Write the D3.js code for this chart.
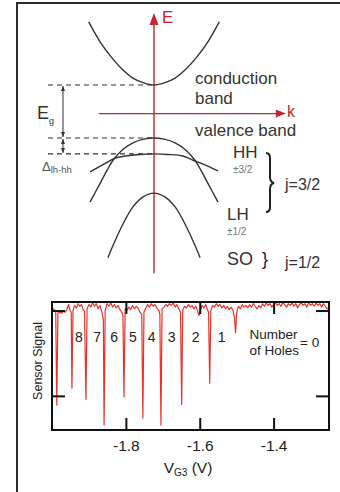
<!DOCTYPE html>
<html>
<head>
<meta charset="utf-8">
<script src="https://cdn.jsdelivr.net/npm/d3@7"></script>
<style>
  body { margin: 0; background: #fff; }
  svg text { font-family: "Liberation Sans", Arial, Helvetica, sans-serif; }
</style>
</head>
<body>
<div id="chart"></div>
<script>
// band diagram, [k, E] with E in units of the gap (VB top = 0, CB bottom = 1)
const conductionBand = [[-1.02,2.19],[-0.84,1.81],[-0.67,1.53],[-0.5,1.30],[-0.33,1.13],[-0.16,1.04],[0,1.0],
  [0.16,1.04],[0.33,1.13],[0.5,1.30],[0.67,1.53],[0.84,1.81],[1.02,2.19]];
const lightHole = [[-1.0,-1.21],[-0.84,-0.85],[-0.73,-0.60],[-0.64,-0.42],[-0.5,-0.23],[-0.33,-0.09],[-0.16,-0.02],[0,0],
  [0.16,-0.02],[0.33,-0.09],[0.5,-0.23],[0.64,-0.42],[0.73,-0.60],[0.84,-0.85],[1.0,-1.21]];
const heavyHole = [[-1.0,-0.64],[-0.84,-0.53],[-0.72,-0.45],[-0.61,-0.38],[-0.45,-0.34],[-0.22,-0.31],[0,-0.30],
  [0.22,-0.31],[0.45,-0.34],[0.61,-0.42],[0.72,-0.47],[0.84,-0.53],[1.0,-0.62]];
const splitOff = [[-0.72,-2.26],[-0.67,-2.11],[-0.5,-1.66],[-0.33,-1.30],[-0.17,-1.11],[0,-1.04],
  [0.17,-1.11],[0.33,-1.30],[0.5,-1.66],[0.67,-2.11],[0.72,-2.26]];
const levelLines = [1.0, 0.0, -0.30];
const eAxisRange = [-2.55, 2.36];
const kAxisRange = [-0.86, 2.06];

// sensor signal vs gate voltage
const xTicks = [-1.8, -1.6, -1.4];
const yTicks = [0.4, 1.4];
const holeNumbers = ["8", "7", "6", "5", "4", "3", "2", "1"];
const holeLabelV = [-1.927, -1.878, -1.832, -1.781, -1.730, -1.676, -1.611, -1.541];
const trace = [
  [-2.000,1.44],[-1.995,1.41],[-1.990,1.40],[-1.987,0.29],[-1.984,1.37],[-1.979,1.38],[-1.974,1.37],[-1.969,1.39],
  [-1.964,1.38],[-1.959,1.42],[-1.955,1.47],[-1.951,1.40],[-1.948,1.38],[-1.946,0.49],[-1.943,1.40],[-1.939,1.46],
  [-1.934,1.43],[-1.929,1.48],[-1.925,1.45],[-1.920,1.47],[-1.916,1.41],[-1.912,1.39],[-1.908,0.36],[-1.905,1.42],
  [-1.900,1.47],[-1.895,1.44],[-1.890,1.49],[-1.885,1.45],[-1.880,1.48],[-1.875,1.42],[-1.870,1.46],[-1.865,1.38],
  [-1.861,1.30],[-1.859,0.06],[-1.856,1.40],[-1.851,1.48],[-1.846,1.45],[-1.841,1.49],[-1.836,1.44],[-1.831,1.47],
  [-1.826,1.43],[-1.821,1.46],[-1.816,1.41],[-1.811,1.38],[-1.808,1.35],[-1.805,0.39],[-1.802,1.42],[-1.797,1.40],
  [-1.792,1.44],[-1.787,1.41],[-1.782,1.46],[-1.777,1.42],[-1.772,1.45],[-1.767,1.43],[-1.762,1.38],[-1.757,1.36],
  [-1.754,0.14],[-1.751,1.38],[-1.746,1.43],[-1.741,1.47],[-1.736,1.44],[-1.731,1.48],[-1.726,1.45],[-1.721,1.47],
  [-1.716,1.43],[-1.711,1.40],[-1.708,1.36],[-1.705,0.06],[-1.702,1.42],[-1.697,1.44],[-1.692,1.47],[-1.687,1.45],
  [-1.682,1.48],[-1.677,1.46],[-1.672,1.49],[-1.667,1.44],[-1.662,1.47],[-1.657,1.42],[-1.652,1.38],[-1.649,0.30],
  [-1.646,1.41],[-1.641,1.45],[-1.636,1.43],[-1.631,1.47],[-1.626,1.44],[-1.621,1.46],[-1.616,1.42],[-1.611,1.45],
  [-1.606,1.40],[-1.602,1.34],[-1.598,1.40],[-1.594,1.46],[-1.589,1.43],[-1.584,1.47],[-1.580,1.42],[-1.576,1.38],
  [-1.573,0.55],[-1.570,1.40],[-1.565,1.46],[-1.560,1.44],[-1.555,1.48],[-1.550,1.45],[-1.545,1.47],[-1.540,1.43],
  [-1.535,1.46],[-1.530,1.42],[-1.525,1.45],[-1.520,1.41],[-1.515,1.44],[-1.510,1.40],[-1.506,1.32],[-1.503,1.14],
  [-1.500,1.38],[-1.495,1.45],[-1.490,1.42],[-1.485,1.47],[-1.480,1.44],[-1.475,1.46],[-1.470,1.43],[-1.465,1.47],
  [-1.460,1.44],[-1.455,1.48],[-1.450,1.45],[-1.445,1.42],[-1.440,1.46],[-1.435,1.43],[-1.430,1.48],[-1.425,1.45],
  [-1.420,1.49],[-1.415,1.46],[-1.410,1.48],[-1.405,1.44],[-1.400,1.47],[-1.395,1.49],[-1.390,1.46],[-1.385,1.48],
  [-1.380,1.45],[-1.375,1.49],[-1.370,1.47],[-1.365,1.44],[-1.360,1.48],[-1.355,1.46],[-1.350,1.49],[-1.345,1.45],
  [-1.340,1.48],[-1.335,1.43],[-1.330,1.47],[-1.325,1.49],[-1.320,1.46],[-1.315,1.48],[-1.310,1.44],[-1.305,1.49],
  [-1.300,1.46],[-1.295,1.48],[-1.290,1.45],[-1.285,1.49],[-1.280,1.46],[-1.275,1.48],[-1.270,1.44],[-1.265,1.48],
  [-1.260,1.45],[-1.255,1.42],[-1.250,1.44]
];

const red = "#c4262b", ink = "#333";

const svg = d3.select("#chart").append("svg")
  .attr("width", 340).attr("height", 492);

// outer frame (open to right and bottom)
svg.append("rect")
  .attr("x", 17).attr("y", 3).attr("width", 340).attr("height", 500)
  .attr("fill", "none").attr("stroke", "#2b2b2b").attr("stroke-width", 2);

// ---------- band diagram ----------
const kx = d3.scaleLinear().domain([-1, 1]).range([90, 218]);
const ey = d3.scaleLinear().domain([0, 1]).range([138, 85]);

const defs = svg.append("defs");
defs.append("marker").attr("id", "ah").attr("viewBox", "0 0 10 10")
  .attr("refX", 10).attr("refY", 5).attr("markerWidth", 5).attr("markerHeight", 5)
  .attr("orient", "auto-start-reverse")
  .append("path").attr("d", "M0,1L10,5L0,9z").attr("fill", ink);

const band = svg.append("g");

// dashed energy levels
band.selectAll("line.lvl").data(levelLines).join("line")
  .attr("class", "lvl")
  .attr("x1", 48).attr("x2", kx(0))
  .attr("y1", d => ey(d)).attr("y2", d => ey(d))
  .attr("stroke", ink).attr("stroke-width", 1.1).attr("stroke-dasharray", "5,4");

// gap arrows
[[levelLines[0], levelLines[1]], [levelLines[1], levelLines[2]]].forEach(([a, b]) => {
  band.append("line")
    .attr("x1", 63).attr("x2", 63).attr("y1", ey(a) + 1).attr("y2", ey(b) - 1)
    .attr("stroke", ink).attr("stroke-width", 1)
    .attr("marker-start", "url(#ah)").attr("marker-end", "url(#ah)");
});

// axes
band.append("line")
  .attr("x1", kx(0)).attr("x2", kx(0)).attr("y1", ey(eAxisRange[0])).attr("y2", ey(eAxisRange[1]) + 10)
  .attr("stroke", red).attr("stroke-width", 1.4);
band.append("path")
  .attr("d", `M${kx(0)},${ey(eAxisRange[1])}L${kx(0) - 4.5},${ey(eAxisRange[1]) + 12}L${kx(0) + 4.5},${ey(eAxisRange[1]) + 12}Z`)
  .attr("fill", red);
band.append("line")
  .attr("x1", kx(kAxisRange[0])).attr("x2", kx(kAxisRange[1]) - 8).attr("y1", ey(0.46)).attr("y2", ey(0.46))
  .attr("stroke", red).attr("stroke-width", 1.4);
band.append("path")
  .attr("d", `M${kx(kAxisRange[1])},${ey(0.46)}L${kx(kAxisRange[1]) - 10},${ey(0.46) - 4}L${kx(kAxisRange[1]) - 10},${ey(0.46) + 4}Z`)
  .attr("fill", red);

// bands
const bandLine = d3.line().x(d => kx(d[0])).y(d => ey(d[1])).curve(d3.curveCatmullRom);
band.selectAll("path.band").data([conductionBand, lightHole, heavyHole, splitOff]).join("path")
  .attr("class", "band")
  .attr("d", bandLine)
  .attr("fill", "none").attr("stroke", ink).attr("stroke-width", 1.4);

// labels
const txt = (x, y, s, size, fill) => svg.append("text").attr("x", x).attr("y", y)
  .attr("font-size", size).attr("fill", fill || ink).text(s);

txt(162, 23, "E", 17, red);
txt(287, 117, "k", 16, red);
txt(195, 84, "conduction", 17);
txt(195, 104, "band", 17);
txt(195, 136, "valence band", 17);

const eg = txt(37, 119, "E", 18);
eg.append("tspan").attr("font-size", 9).attr("dy", 5).text("g");
const dl = txt(42, 171, "\u0394", 13, "#555");
dl.append("tspan").attr("font-size", 9.5).attr("dy", 1.5).text("lh-hh");

txt(233, 158, "HH", 17);
txt(233, 173, "\u00b13/2", 10, "#777");
txt(227, 220, "LH", 17);
txt(227, 235, "\u00b11/2", 10, "#777");
txt(227, 265, "SO", 18);
txt(262, 265, "}", 18, "#222");
txt(285, 190, "j=3/2", 16);
txt(285, 268, "j=1/2", 16);

// brace for j=3/2
svg.append("path")
  .attr("d", "M266,153 Q270,153 270,158 L270,177 Q270,182 274,183 Q270,184 270,189 L270,207 Q270,212 266,212")
  .attr("fill", "none").attr("stroke", "#222").attr("stroke-width", 2);

// ---------- sensor plot ----------
const x = d3.scaleLinear().domain([-2.0, -1.25]).range([52, 329]);
const y = d3.scaleLinear().domain([0, 1.5]).range([430, 302]);

svg.append("clipPath").attr("id", "plotclip")
  .append("rect").attr("x", 52).attr("y", 302).attr("width", 277).attr("height", 128);

svg.append("path")
  .datum(trace)
  .attr("clip-path", "url(#plotclip)")
  .attr("d", d3.line().x(d => x(d[0])).y(d => y(d[1])))
  .attr("fill", "none").attr("stroke", "#e8332b").attr("stroke-width", 1.2)
  .attr("stroke-linejoin", "round");

const styleAxis = g => {
  g.select(".domain").remove();
  g.selectAll(".tick line").attr("stroke", "#111").attr("stroke-width", 2);
};

svg.append("g").attr("transform", "translate(0,430)")
  .call(d3.axisBottom(x).tickValues(xTicks).tickSize(-12).tickPadding(10).tickFormat(d => d.toFixed(1)))
  .call(styleAxis)
  .call(g => g.selectAll("text").attr("font-size", 15.5).attr("fill", "#222")
    .attr("font-family", "'Liberation Sans', Arial, sans-serif"));
svg.append("g").attr("transform", "translate(0,302)")
  .call(d3.axisTop(x).tickValues(xTicks).tickSize(-12).tickFormat(""))
  .call(styleAxis);
svg.append("g").attr("transform", "translate(52,0)")
  .call(d3.axisLeft(y).tickValues(yTicks).tickSize(-13).tickFormat(""))
  .call(styleAxis);
svg.append("g").attr("transform", "translate(329,0)")
  .call(d3.axisRight(y).tickValues(yTicks).tickSize(-13).tickFormat(""))
  .call(styleAxis);

svg.append("rect")
  .attr("x", 52).attr("y", 302).attr("width", 277).attr("height", 128)
  .attr("fill", "none").attr("stroke", "#111").attr("stroke-width", 2);

svg.selectAll("text.hole").data(holeNumbers).join("text")
  .attr("class", "hole")
  .attr("x", (d, i) => x(holeLabelV[i])).attr("y", 342)
  .attr("text-anchor", "middle").attr("font-size", 14).attr("fill", "#222")
  .text(d => d);

txt(x(-1.465), 339, "Number", 13.5, "#222");
txt(x(-1.465), 355, "of Holes", 13.5, "#222");
txt(300, 347, "= 0", 13.5, "#222");

const xl = svg.append("text").attr("x", 188).attr("y", 473).attr("text-anchor", "middle")
  .attr("font-size", 15.5).attr("fill", "#222").text("V");
xl.append("tspan").attr("font-size", 10).attr("dy", 3).text("G3");
xl.append("tspan").attr("dy", -3).text(" (V)");

svg.append("text").attr("transform", "translate(42,361) rotate(-90)")
  .attr("text-anchor", "middle").attr("font-size", 12.5).attr("fill", "#222")
  .text("Sensor Signal");
</script>
</body>
</html>
